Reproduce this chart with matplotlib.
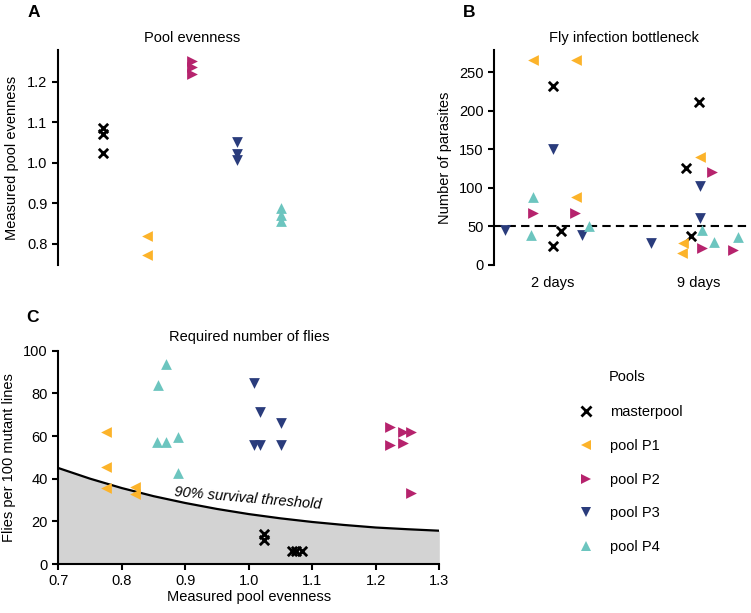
import matplotlib
matplotlib.use("Agg")
import matplotlib.pyplot as plt
from matplotlib.lines import Line2D

plt.rcParams['font.family'] = ['Liberation Sans', 'DejaVu Sans']
plt.rcParams['font.size'] = 10

# pools, their markers and colours
pools = ['masterpool', 'pool P1', 'pool P2', 'pool P3', 'pool P4']
markers = ['x', '<', '>', 'v', '^']
colors = ['black', '#FCB32A', '#B6236D', '#2A3C7C', '#6CC5BF']

# A: measured pool evenness per pool
evenness = [
    [1.086, 1.071, 1.024],
    [0.820, 0.773],
    [1.252, 1.238, 1.220],
    [1.051, 1.021, 1.007],
    [0.888, 0.872, 0.857],
]

# B: number of parasites after 2 and 9 days (with jitter offsets)
days = ['2 days', '9 days']
parasites_2d = [
    [232.7, 44.6, 25.1],
    [266, 266, 88.8],
    [67, 67],
    [45.5, 150, 39],
    [88.8, 39, 50],
]
jitter_2d = [
    [0.0, 0.055, 0.0],
    [-0.14, 0.16, 0.155],
    [-0.14, 0.148],
    [-0.33, 0.0, 0.197],
    [-0.14, -0.152, 0.25],
]
parasites_9d = [
    [211.5, 125.7, 37.7],
    [140, 29, 16],
    [120.5, 22.5, 19.5],
    [29, 102.7, 60.7],
    [45.5, 30.3, 36],
]
jitter_9d = [
    [0.0, -0.086, -0.058],
    [0.005, -0.108, -0.119],
    [0.087, 0.018, 0.235],
    [-0.329, 0.007, 0.007],
    [0.018, 0.103, 0.27],
]
bottleneck = 50

# C: required number of flies vs evenness
c_evenness = [
    [1.024, 1.024, 1.068, 1.075, 1.083],
    [0.775, 0.775, 0.775, 0.821, 0.821],
    [1.222, 1.243, 1.255, 1.222, 1.243, 1.255],
    [1.008, 1.017, 1.050, 1.008, 1.017, 1.050],
    [0.869, 0.857, 0.856, 0.869, 0.889, 0.889],
]
c_flies = [
    [14.2, 11.2, 6.2, 6.2, 6.2],
    [61.7, 45.3, 35.5, 36.2, 32.8],
    [64.4, 61.7, 61.7, 55.8, 56.9, 33.4],
    [84.7, 71.4, 65.9, 55.8, 55.8, 55.8],
    [93.7, 83.9, 57.3, 57.3, 59.7, 42.5],
]
threshold_x = [0.70, 0.75, 0.80, 0.85, 0.90, 0.95, 1.00, 1.05, 1.10, 1.15, 1.20, 1.25, 1.30]
threshold_y = [45.0, 40.0, 35.6, 31.8, 28.6, 25.8, 23.4, 21.4, 19.7, 18.3, 17.1, 16.3, 15.6]


def draw(ax, x, y, i):
    if markers[i] == 'x':
        ax.scatter(x, y, marker='x', s=45, c=colors[i], linewidths=2, zorder=3)
    else:
        ax.scatter(x, y, marker=markers[i], s=60, c=colors[i], linewidths=0, zorder=3)


def style(ax):
    for s in ['top', 'right']:
        ax.spines[s].set_visible(False)
    for s in ['left', 'bottom']:
        ax.spines[s].set_linewidth(1.5)
    ax.tick_params(width=1.5, length=4, labelsize=10.5, color='black')


fig = plt.figure(figsize=(7.51, 6.13), dpi=100)

# ---- A
axA = fig.add_axes([58 / 751, 1 - 265 / 613, 268 / 751, 215 / 613])
for i in range(len(pools)):
    draw(axA, [i] * len(evenness[i]), evenness[i], i)
style(axA)
axA.spines['bottom'].set_visible(False)
axA.set_xticks([])
axA.set_xlim(-1, 5)
axA.set_ylim(0.748, 1.279)
axA.set_yticks([0.8, 0.9, 1.0, 1.1, 1.2])
axA.set_title('Pool evenness', fontsize=10.5, pad=6)
axA.set_ylabel('Measured pool evenness', fontsize=10.5, labelpad=6)

# ---- B
axB = fig.add_axes([494 / 751, 1 - 265 / 613, 257 / 751, 215 / 613])
for i in range(len(pools)):
    draw(axB, [0 + j for j in jitter_2d[i]], parasites_2d[i], i)
    draw(axB, [1 + j for j in jitter_9d[i]], parasites_9d[i], i)
axB.axhline(bottleneck, color='black', lw=1.5, ls=(0, (4, 2.5)), zorder=2)
style(axB)
axB.spines['bottom'].set_visible(False)
axB.set_xlim(-0.404, 1.356)
axB.set_ylim(0, 279)
axB.set_xticks([0, 1])
axB.set_xticklabels(days)
axB.tick_params(axis='x', length=0, pad=8)
axB.set_yticks([0, 50, 100, 150, 200, 250])
axB.set_title('Fly infection bottleneck', fontsize=10.5, pad=6, x=0.505)
axB.set_ylabel('Number of parasites', fontsize=10.5, labelpad=5)

# ---- C
axC = fig.add_axes([58.3 / 751, 1 - 564 / 613, 381 / 751, 213.3 / 613])
axC.fill_between(threshold_x, 0, threshold_y, color='#d3d3d3', lw=0, zorder=1)
axC.plot(threshold_x, threshold_y, color='black', lw=1.6, zorder=2)
for i in range(len(pools)):
    draw(axC, c_evenness[i], c_flies[i], i)
axC.text(0.999, 30.9, '90% survival threshold', style='italic', fontsize=10.5,
         rotation=-5, ha='center', va='center', rotation_mode='anchor')
style(axC)
axC.set_xlim(0.7, 1.3)
axC.set_ylim(0, 100)
axC.set_xticks([0.7, 0.8, 0.9, 1.0, 1.1, 1.2, 1.3])
axC.set_yticks([0, 20, 40, 60, 80, 100])
axC.set_title('Required number of flies', fontsize=10.5, pad=7)
axC.set_ylabel('Flies per 100 mutant lines', fontsize=10.5, labelpad=5)
axC.set_xlabel('Measured pool evenness', fontsize=10.5, labelpad=1)

# legend
handles = []
for i in range(len(pools)):
    if markers[i] == 'x':
        h = Line2D([], [], ls='none', marker='x', color=colors[i], markersize=7, markeredgewidth=2)
    else:
        h = Line2D([], [], ls='none', marker=markers[i], color=colors[i], markersize=7.5, markeredgewidth=0)
    handles.append(h)
fig.legend(handles, pools, loc='center left', bbox_to_anchor=(566 / 751, 1 - 479.7 / 613),
           frameon=False, fontsize=10.5, labelspacing=1.35, handletextpad=1.1,
           handlelength=1.0)
fig.text(609 / 751, 1 - 377 / 613, 'Pools', fontsize=10.5, ha='left', va='center')

# panel letters
fig.text(28 / 751, 1 - 17 / 613, 'A', fontsize=12.5, fontweight='bold', va='baseline')
fig.text(463 / 751, 1 - 17 / 613, 'B', fontsize=12.5, fontweight='bold', va='baseline')
fig.text(26 / 751, 1 - 322 / 613, 'C', fontsize=12.5, fontweight='bold', va='baseline')

fig.savefig('out.png', dpi=100)
